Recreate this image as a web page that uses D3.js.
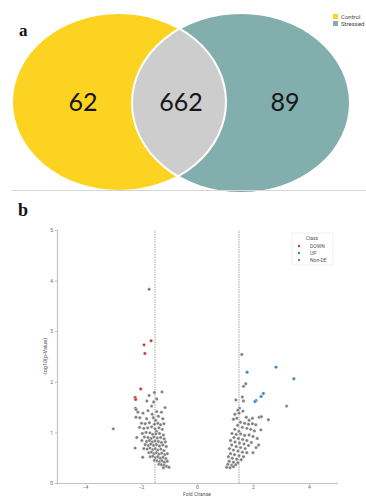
<!DOCTYPE html>
<html>
<head>
<meta charset="utf-8">
<script src="https://cdn.jsdelivr.net/npm/d3@7"></script>
<style>
  html, body { margin: 0; padding: 0; background: #fff; }
  svg { display: block; }
</style>
</head>
<body>
<svg id="fig" width="366" height="496"></svg>
<script>
// ---- Panel a: Venn counts ----
const vennSets = ["Control", "Stressed"];
const vennColors = ["#FDD322", "#82AEAD"];
const vennCounts = [62, 662, 89]; // Control only, shared, Stressed only

// ---- Panel b: volcano plot ----
const classNames = ["DOWN", "UP", "Non-DE"];
const classColors = ["#C43B3B", "#3B82C4", "#7f7f7f"];
const xTicks = [-4, -2, 0, 2, 4];
const yTicks = [0, 1, 2, 3, 4, 5];
const foldCutoff = 1.5;

// [fold change, -log10(p)]
const downPoints = [
  [-1.89, 2.73], [-1.64, 2.81], [-1.86, 2.56], [-2.01, 1.86], [-2.21, 1.69], [-2.19, 1.65]
];
const upPoints = [
  [1.79, 2.19], [2.82, 2.29], [3.46, 2.06], [2.37, 1.77], [2.29, 1.71], [2.11, 1.63], [2.07, 1.61]
];
const nonDePoints = [
  // down-regulated side
  [-1.71, 3.83], [-2.99, 1.07],
  [-1.52, 1.79], [-1.25, 1.80], [-1.71, 1.73], [-1.44, 1.66], [-1.79, 1.62], [-1.55, 1.60],
  [-2.20, 1.48], [-2.17, 1.45], [-1.14, 1.49], [-1.62, 1.52],
  [-2.11, 1.40], [-1.93, 1.38], [-1.75, 1.43], [-1.44, 1.41], [-1.27, 1.40], [-1.60, 1.36],
  [-2.18, 1.30], [-2.04, 1.29], [-1.80, 1.27], [-1.56, 1.29], [-1.38, 1.32], [-1.22, 1.27], [-1.48, 1.24],
  [-1.98, 1.18], [-1.85, 1.17], [-1.70, 1.19], [-1.52, 1.16], [-1.40, 1.18], [-1.30, 1.15], [-1.18, 1.17],
  [-2.05, 1.10], [-1.90, 1.08], [-1.76, 1.09], [-1.62, 1.11], [-1.50, 1.07], [-1.36, 1.09], [-1.24, 1.06], [-1.45, 1.02],
  [-2.15, 0.90], [-2.21, 0.69], [-1.94, 0.51],
  [-1.95, 0.98], [-1.82, 1.00], [-1.68, 0.99], [-1.58, 0.96], [-1.47, 0.97], [-1.34, 0.98], [-1.20, 0.95],
  [-1.88, 0.91], [-1.75, 0.90], [-1.64, 0.88], [-1.54, 0.91], [-1.42, 0.89], [-1.30, 0.90], [-1.17, 0.87],
  [-1.97, 0.84], [-1.80, 0.82], [-1.70, 0.84], [-1.60, 0.81], [-1.50, 0.83], [-1.38, 0.82], [-1.27, 0.80], [-1.13, 0.81],
  [-1.85, 0.76], [-1.74, 0.74], [-1.65, 0.77], [-1.55, 0.74], [-1.45, 0.76], [-1.34, 0.73], [-1.22, 0.75], [-1.10, 0.72],
  [-1.90, 0.68], [-1.78, 0.67], [-1.68, 0.69], [-1.58, 0.66], [-1.49, 0.68], [-1.40, 0.65], [-1.29, 0.67], [-1.18, 0.64],
  [-1.72, 0.60], [-1.63, 0.61], [-1.54, 0.58], [-1.45, 0.60], [-1.36, 0.57], [-1.26, 0.59], [-1.15, 0.56], [-1.06, 0.58],
  [-1.67, 0.52], [-1.58, 0.53], [-1.49, 0.50], [-1.40, 0.52], [-1.31, 0.49], [-1.21, 0.51], [-1.11, 0.48],
  [-1.52, 0.45], [-1.43, 0.44], [-1.34, 0.42], [-1.25, 0.44], [-1.16, 0.41], [-1.06, 0.43],
  [-1.36, 0.37], [-1.27, 0.36], [-1.18, 0.35], [-1.09, 0.33], [-1.00, 0.31], [-1.20, 0.30],
  // up-regulated side
  [1.60, 2.54], [1.74, 1.96], [1.66, 1.91], [3.20, 1.52],
  [1.39, 1.64], [1.62, 1.70], [1.66, 1.62],
  [1.52, 1.48], [1.46, 1.44], [1.64, 1.42], [1.50, 1.38], [1.35, 1.36], [1.76, 1.30], [2.22, 1.30], [2.30, 1.31],
  [2.55, 1.25], [1.98, 1.28], [1.86, 1.24], [1.42, 1.28], [1.30, 1.26],
  [1.55, 1.20], [1.70, 1.18], [1.84, 1.16], [1.98, 1.17], [2.10, 1.15], [1.45, 1.14], [1.62, 1.10], [1.78, 1.08],
  [1.92, 1.06], [2.05, 1.03], [2.28, 1.05], [1.35, 1.06], [1.50, 1.02],
  [1.25, 0.98], [1.40, 0.96], [1.56, 0.97], [1.70, 0.94], [1.86, 0.95], [2.00, 0.92], [2.15, 0.88], [1.32, 0.90],
  [1.48, 0.88], [1.63, 0.86], [1.78, 0.84], [1.94, 0.80],
  [1.20, 0.84], [1.36, 0.81], [1.52, 0.79], [1.68, 0.77], [1.84, 0.74], [2.20, 0.75], [1.24, 0.75], [1.40, 0.72],
  [1.56, 0.70], [1.72, 0.68], [2.11, 0.70], [2.00, 0.60],
  [1.16, 0.68], [1.30, 0.65], [1.46, 0.63], [1.62, 0.61], [1.78, 0.60], [1.20, 0.58], [1.34, 0.56], [1.50, 0.54],
  [1.66, 0.52], [1.12, 0.52], [1.26, 0.49], [1.42, 0.47], [1.58, 0.46],
  [1.15, 0.43], [1.30, 0.41], [1.46, 0.40], [1.10, 0.37], [1.24, 0.35], [1.38, 0.36], [1.06, 0.31], [1.18, 0.30], [1.30, 0.32]
];

const svg = d3.select("#fig");

// ================= Panel a =================
const pa = svg.append("g");

const ellipses = [
  { cx: 119, cy: 102, rx: 107, ry: 89 },
  { cx: 241, cy: 103, rx: 109, ry: 90 }
];

const defs = svg.append("defs");
defs.append("clipPath").attr("id", "clipControl")
  .append("ellipse")
  .attr("cx", ellipses[0].cx).attr("cy", ellipses[0].cy)
  .attr("rx", ellipses[0].rx).attr("ry", ellipses[0].ry);

pa.selectAll("ellipse.set")
  .data(ellipses)
  .join("ellipse")
  .attr("class", "set")
  .attr("cx", d => d.cx).attr("cy", d => d.cy)
  .attr("rx", d => d.rx).attr("ry", d => d.ry)
  .attr("fill", (d, i) => vennColors[i]);

// shared region
pa.append("ellipse")
  .attr("clip-path", "url(#clipControl)")
  .attr("cx", ellipses[1].cx).attr("cy", ellipses[1].cy)
  .attr("rx", ellipses[1].rx).attr("ry", ellipses[1].ry)
  .attr("fill", "#CDCDCD");

// white outlines of both sets inside the overlap
pa.selectAll("ellipse.edge")
  .data(ellipses)
  .join("ellipse")
  .attr("class", "edge")
  .attr("cx", d => d.cx).attr("cy", d => d.cy)
  .attr("rx", d => d.rx).attr("ry", d => d.ry)
  .attr("fill", "none")
  .attr("stroke", "#fff")
  .attr("stroke-width", 2);

const countX = [83, 181, 285];
pa.selectAll("text.count")
  .data(vennCounts)
  .join("text")
  .attr("class", "count")
  .attr("x", (d, i) => countX[i])
  .attr("y", 111)
  .attr("text-anchor", "middle")
  .attr("font-family", "Lato, 'Noto Sans', sans-serif")
  .attr("font-size", 25)
  .attr("fill", "#161616")
  .text(d => d);

pa.append("text")
  .attr("x", 19).attr("y", 36)
  .attr("font-family", "'Liberation Serif', 'DejaVu Serif', serif")
  .attr("font-weight", "bold")
  .attr("font-size", 17)
  .attr("fill", "#111")
  .text("a");

// set legend
const vleg = pa.append("g").attr("transform", "translate(333,14)");
vleg.selectAll("rect")
  .data(vennSets)
  .join("rect")
  .attr("x", 0).attr("y", (d, i) => i * 7)
  .attr("width", 5).attr("height", 5)
  .attr("fill", (d, i) => vennColors[i]);
vleg.selectAll("text")
  .data(vennSets)
  .join("text")
  .attr("x", 8).attr("y", (d, i) => i * 7 + 4.5)
  .attr("font-family", "Roboto, 'Noto Sans', sans-serif")
  .attr("font-size", 6)
  .attr("fill", "#444")
  .text(d => d);

// separator
svg.append("line")
  .attr("x1", 12).attr("x2", 366)
  .attr("y1", 190.5).attr("y2", 190.5)
  .attr("stroke", "#d6d6d6").attr("stroke-width", 1);

// ================= Panel b =================
svg.append("text")
  .attr("x", 18).attr("y", 216)
  .attr("font-family", "'Liberation Serif', 'DejaVu Serif', serif")
  .attr("font-weight", "bold")
  .attr("font-size", 18)
  .attr("fill", "#111")
  .text("b");

const x = d3.scaleLinear().domain([-5, 5]).range([57, 337]);
const y = d3.scaleLinear().domain([0, 5]).range([483, 230]);

const pb = svg.append("g");

// cutoff lines
pb.selectAll("line.cut")
  .data([-foldCutoff, foldCutoff])
  .join("line")
  .attr("class", "cut")
  .attr("x1", d => x(d)).attr("x2", d => x(d))
  .attr("y1", y(0)).attr("y2", y(5))
  .attr("stroke", "#8a8a8a")
  .attr("stroke-width", 0.8)
  .attr("stroke-dasharray", "1.5,1");

const axisStyle = g => {
  g.select(".domain").attr("stroke", "#c4c4c4").attr("stroke-width", 1.2);
  g.selectAll(".tick line").attr("stroke", "#bbb");
  g.selectAll(".tick text")
    .attr("fill", "#666")
    .attr("font-family", "Roboto, 'Noto Sans', sans-serif")
    .attr("font-size", 5);
};

pb.append("g")
  .attr("transform", `translate(0,${y(0)})`)
  .call(d3.axisBottom(x).tickValues(xTicks).tickSize(1.5).tickPadding(1)
    .tickFormat(d => d < 0 ? "\u2212" + Math.abs(d) : d))
  .call(axisStyle);

pb.append("g")
  .attr("transform", `translate(${x(-5)},0)`)
  .call(d3.axisLeft(y).tickValues(yTicks).tickSize(2).tickPadding(2)
    .tickFormat(d3.format("d")))
  .call(axisStyle);

pb.append("text")
  .attr("x", x(0)).attr("y", 495.5)
  .attr("text-anchor", "middle")
  .attr("font-family", "Roboto, 'Noto Sans', sans-serif")
  .attr("font-size", 5)
  .attr("fill", "#555")
  .text("Fold Change");

pb.append("text")
  .attr("transform", `translate(47,${(y(0) + y(5)) / 2}) rotate(-90)`)
  .attr("text-anchor", "middle")
  .attr("font-family", "Roboto, 'Noto Sans', sans-serif")
  .attr("font-size", 5.5)
  .attr("fill", "#555")
  .text("-log10(p-Value)");

// points
const groups = [nonDePoints, downPoints, upPoints];
const groupClass = [2, 0, 1];
groups.forEach((pts, gi) => {
  pb.append("g")
    .selectAll("circle")
    .data(pts)
    .join("circle")
    .attr("cx", d => x(d[0]))
    .attr("cy", d => y(d[1]))
    .attr("r", 1.7)
    .attr("fill", classColors[groupClass[gi]])
    .attr("stroke", "#fff")
    .attr("stroke-width", 0.4);
});

// class legend
const lg = pb.append("g").attr("transform", "translate(292,233)");
lg.append("rect")
  .attr("width", 41).attr("height", 32)
  .attr("fill", "#fff")
  .attr("stroke", "#e6e6e6").attr("stroke-width", 0.6);
lg.append("text")
  .attr("x", 20).attr("y", 6.5)
  .attr("text-anchor", "middle")
  .attr("font-family", "Roboto, 'Noto Sans', sans-serif")
  .attr("font-size", 5)
  .attr("fill", "#555")
  .text("Class");
const lgRows = lg.selectAll("g.row")
  .data(classNames)
  .join("g")
  .attr("class", "row")
  .attr("transform", (d, i) => `translate(0,${13 + i * 7})`);
lgRows.append("circle")
  .attr("cx", 7).attr("cy", 0).attr("r", 1.2)
  .attr("fill", (d, i) => classColors[i]);
lgRows.append("text")
  .attr("x", 18).attr("y", 1.8)
  .attr("font-family", "Roboto, 'Noto Sans', sans-serif")
  .attr("font-size", 5)
  .attr("fill", "#555")
  .text(d => d);
</script>
</body>
</html>
